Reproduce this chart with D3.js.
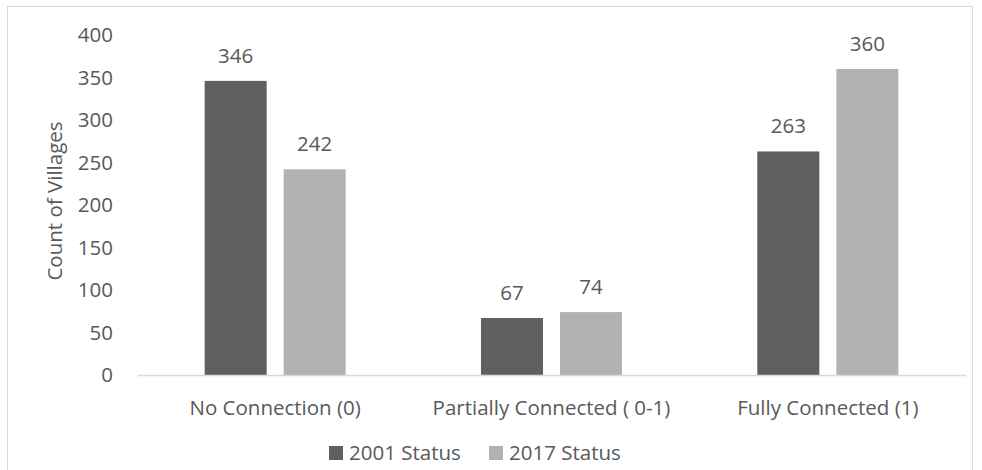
<!DOCTYPE html>
<html>
<head>
<meta charset="utf-8">
<script src="https://cdn.jsdelivr.net/npm/d3@7"></script>
<style>
  body { margin: 0; background: #fff; }
  text { font-family: "Open Sans", sans-serif; fill: #595959; }
</style>
</head>
<body>
<figure id="bar" style="margin:0"></figure>
<script>
// chart data
const categories = ["No Connection (0)", "Partially Connected ( 0-1)", "Fully Connected (1)"];
const seriesNames = ["2001 Status", "2017 Status"];
const values2001 = [346, 67, 263];
const values2017 = [242, 74, 360];
const yTicks = [0, 50, 100, 150, 200, 250, 300, 350, 400];

const colors = ["#5f5f5f", "#b2b2b2"];
const fontSize = "20.5px";
const width = 982, height = 470;
const plot = { left: 137, right: 966, top: 35, bottom: 375 };

const svg = d3.select("figure#bar")
  .append("svg")
  .attr("width", width)
  .attr("height", height);

// outer frame
svg.append("rect")
  .attr("x", 7.5).attr("y", 6.5)
  .attr("width", 965).attr("height", 470)
  .attr("fill", "none")
  .attr("stroke", "#d9d9d9");

const x = d3.scaleBand()
  .domain(categories)
  .range([plot.left, plot.right]);

const x1 = d3.scaleBand()
  .domain(seriesNames)
  .range([0, x.bandwidth()])
  .paddingInner(0.215)
  .paddingOuter(0.856);

const y = d3.scaleLinear()
  .domain([0, 400])
  .range([plot.bottom, plot.top]);

// y axis labels
const yAxis = svg.append("g")
  .attr("transform", "translate(" + (plot.left - 24) + ",0)")
  .call(d3.axisLeft(y).tickValues(yTicks).tickSize(0).tickPadding(0));
yAxis.select(".domain").remove();
yAxis.selectAll("text")
  .style("font-size", fontSize)
  .style("fill", "#595959");

// bars
const rows = categories.map((c, i) => ({ cat: c, vals: [values2001[i], values2017[i]] }));

const groups = svg.selectAll("g.grp")
  .data(rows)
  .enter()
  .append("g")
  .attr("class", "grp")
  .attr("transform", d => "translate(" + x(d.cat) + ",0)");

groups.selectAll("rect")
  .data(d => d.vals.map((v, j) => ({ s: seriesNames[j], v: v, j: j })))
  .enter()
  .append("rect")
  .attr("x", d => x1(d.s))
  .attr("y", d => y(d.v))
  .attr("width", x1.bandwidth())
  .attr("height", d => y(0) - y(d.v))
  .attr("fill", d => colors[d.j]);

groups.selectAll("text.val")
  .data(d => d.vals.map((v, j) => ({ s: seriesNames[j], v: v })))
  .enter()
  .append("text")
  .attr("class", "val")
  .attr("x", d => x1(d.s) + x1.bandwidth() / 2)
  .attr("y", d => y(d.v) - 18)
  .attr("text-anchor", "middle")
  .style("font-size", fontSize)
  .text(d => d.v);

// x axis
const xAxis = svg.append("g")
  .attr("transform", "translate(0," + plot.bottom + ")")
  .call(d3.axisBottom(x).tickSize(0).tickPadding(25));
xAxis.select(".domain").attr("stroke", "#d9d9d9").attr("stroke-width", 1.5);
xAxis.selectAll("text")
  .style("font-size", fontSize)
  .style("fill", "#595959");

// y axis title
svg.append("text")
  .attr("transform", "translate(62,201) rotate(-90)")
  .attr("text-anchor", "middle")
  .style("font-size", fontSize)
  .text("Count of Villages");

// legend
const legendX = [329, 489];
const legend = svg.selectAll("g.leg")
  .data(seriesNames)
  .enter()
  .append("g")
  .attr("class", "leg")
  .attr("transform", (d, i) => "translate(" + legendX[i] + ",446)");
legend.append("rect")
  .attr("width", 14).attr("height", 14)
  .attr("fill", (d, i) => colors[i]);
legend.append("text")
  .attr("x", 20).attr("y", 14)
  .style("font-size", fontSize)
  .text(d => d);
</script>
</body>
</html>
